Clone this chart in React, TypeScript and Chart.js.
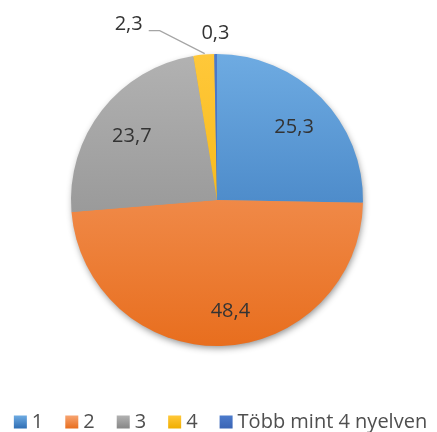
import React, { useEffect, useRef } from "react";
import { Chart, registerables } from "chart.js";

Chart.register(...registerables);

const categories = ["1", "2", "3", "4", "Több mint 4 nyelven"];
const values = [25.3, 48.4, 23.7, 2.3, 0.3];

const baseColors = ["#5B9BD5", "#ED7D31", "#A5A5A5", "#FFC000", "#4472C4"];
const topColors = ["#6EABE2", "#F7A471", "#B2B2B2", "#FFC83A", "#4C7BCC"];
const bottomColors = ["#2F6EB4", "#E86E1E", "#868686", "#F0AE00", "#3A64B4"];

const FONT = "'Open Sans', 'DejaVu Sans', sans-serif";
const TEXT_COLOR = "#333333";

const fmt = (v: number) => v.toFixed(1).replace(".", ",");

const shadowPlugin = {
  id: "pieShadow",
  beforeDatasetsDraw(chart: any) {
    const arcs = chart.getDatasetMeta(0).data;
    if (!arcs.length) return;
    const { x, y, outerRadius } = arcs[0].getProps(["x", "y", "outerRadius"], true);
    const ctx = chart.ctx;
    ctx.save();
    ctx.shadowColor = "rgba(0,0,0,0.45)";
    ctx.shadowBlur = 7;
    ctx.shadowOffsetX = 1;
    ctx.shadowOffsetY = 3;
    ctx.fillStyle = "#999";
    ctx.beginPath();
    ctx.arc(x, y, outerRadius - 1, 0, Math.PI * 2);
    ctx.fill();
    ctx.restore();
  },
};

const labelPlugin = {
  id: "sliceLabels",
  afterDatasetsDraw(chart: any) {
    const ctx = chart.ctx;
    const meta = chart.getDatasetMeta(0);
    const data = chart.data.datasets[0].data as number[];
    ctx.save();
    ctx.font = `20px ${FONT}`;
    ctx.fillStyle = TEXT_COLOR;
    ctx.textBaseline = "middle";
    meta.data.forEach((arc: any, i: number) => {
      const { x, y, startAngle, endAngle, outerRadius } = arc.getProps(
        ["x", "y", "startAngle", "endAngle", "outerRadius"],
        true
      );
      const mid = (startAngle + endAngle) / 2;
      const cos = Math.cos(mid);
      const sin = Math.sin(mid);
      const text = fmt(data[i]);
      const share = (endAngle - startAngle) / (Math.PI * 2);
      if (share > 0.05) {
        const r = outerRadius * 0.74;
        const nudge = i === 1 ? 10 : 0;
        ctx.textAlign = "center";
        ctx.fillText(text, x + r * cos + nudge, y + r * sin + 3);
      } else if (share > 0.01) {
        const ax = x + outerRadius * cos;
        const ay = y + outerRadius * sin;
        const ex = ax - 44;
        const ey = ay - 24;
        const hx = ex - 11;
        ctx.strokeStyle = "#A5A5A5";
        ctx.lineWidth = 1.2;
        ctx.beginPath();
        ctx.moveTo(ax + 1, ay - 1);
        ctx.lineTo(ex, ey);
        ctx.lineTo(hx, ey);
        ctx.stroke();
        ctx.textAlign = "right";
        ctx.fillText(text, hx - 6, ey - 6);
      } else {
        const r = outerRadius + 22;
        ctx.textAlign = "center";
        ctx.fillText(text, x + r * cos, y + r * sin + 1);
      }
    });
    ctx.restore();
  },
};

const legendPlugin = {
  id: "bottomLegend",
  afterDraw(chart: any) {
    const ctx = chart.ctx;
    const labels = chart.data.labels as string[];
    const box = 13;
    const gapText = 5;
    const gapItem = 22;
    ctx.save();
    ctx.font = `20px ${FONT}`;
    ctx.textBaseline = "middle";
    ctx.textAlign = "left";
    const widths = labels.map((l) => box + gapText + ctx.measureText(l).width);
    const total = widths.reduce((a, b) => a + b, 0) + gapItem * (labels.length - 1);
    let cx = (chart.width - total) / 2 + 2;
    const cy = 422;
    labels.forEach((l, i) => {
      const g = ctx.createLinearGradient(0, cy - box / 2, 0, cy + box / 2);
      g.addColorStop(0, topColors[i]);
      g.addColorStop(1, bottomColors[i]);
      ctx.fillStyle = g;
      ctx.fillRect(cx, cy - box / 2, box, box);
      ctx.fillStyle = "#4F4F4F";
      ctx.fillText(l, cx + box + gapText, cy);
      cx += widths[i] + gapItem;
    });
    ctx.restore();
  },
};

export default function App() {
  const ref = useRef<HTMLCanvasElement>(null);
  useEffect(() => {
    if (!ref.current) return;
    const R = 146;
    const chart = new Chart(ref.current, {
      type: "pie",
      data: {
        labels: categories,
        datasets: [
          {
            data: values,
            borderWidth: 0,
            backgroundColor: (c: any) => {
              const area = c.chart.chartArea;
              const i = c.dataIndex;
              if (!area || i === undefined) return baseColors[i ?? 0];
              const cy = (area.top + area.bottom) / 2;
              const g = c.chart.ctx.createLinearGradient(0, cy - R, 0, cy + R);
              g.addColorStop(0, topColors[i]);
              g.addColorStop(1, bottomColors[i]);
              return g;
            },
          },
        ],
      },
      options: {
        animation: false,
        responsive: false,
        radius: R,
        layout: { padding: { left: 0, right: 3, top: 0, bottom: 32 } },
        plugins: {
          legend: { display: false },
          tooltip: { enabled: false },
        },
      } as any,
      plugins: [shadowPlugin, labelPlugin, legendPlugin],
    });
    return () => chart.destroy();
  }, []);
  return (
    <div style={{ position: "fixed", left: 0, top: 0, width: 437, height: 432, background: "#fff" }}>
      <canvas ref={ref} width={437} height={432} style={{ display: "block" }} />
    </div>
  );
}
